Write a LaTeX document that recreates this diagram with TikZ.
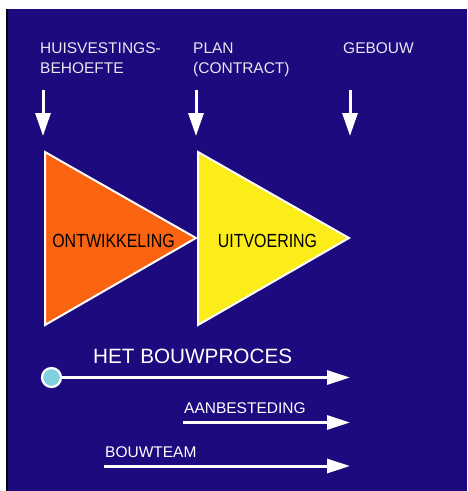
\documentclass[tikz,border=0pt]{standalone}
\usepackage{fontspec}
\setmainfont{Liberation Sans}
\newfontfamily\narrowsf[FakeStretch=0.84]{Liberation Sans}
\usepackage{xcolor}
\usepackage{tikz}
\usetikzlibrary{arrows.meta, positioning}
\definecolor{BP_NAVY}{HTML}{1C0A7E}
\definecolor{BP_ORANGE}{HTML}{FA6410}
\definecolor{BP_YELLOW}{HTML}{FCEC1A}
\definecolor{BP_CYAN}{HTML}{80D0E0}
\definecolor{BP_LIGHT}{HTML}{E8E8F0}
\tikzset{
  toplabel/.style={
    anchor=base west, inner sep=0pt, align=left,
    text=BP_LIGHT, font=\fontsize{15.5}{20}\selectfont},
  phase/.style={draw=white, line width=2pt, line join=miter},
  phasetext/.style={
    anchor=base, inner sep=0pt,
    text=black, font=\narrowsf\fontsize{19}{22}\selectfont},
  proclabel/.style={
    anchor=base west, inner sep=0pt,
    text=white, font=\fontsize{15.5}{18}\selectfont},
  downarr/.style={-{Triangle[length=23pt,width=15pt]}, line width=3pt, draw=white},
  procarr/.style={-{Triangle[length=23pt,width=14pt]}, line width=3pt, draw=white},
  startdot/.style={circle, minimum size=19pt, inner sep=0pt,
    draw=white, line width=2.2pt, fill=BP_CYAN},
}
\begin{document}
\begin{tikzpicture}[x=1pt, y=-1pt]

  \useasboundingbox (0,0) rectangle (467,491);
  \fill[white] (0,0) rectangle (467,491);
  \fill[BP_NAVY] (8,9) rectangle (467,491);
  \fill[black] (6,9) rectangle (8,491);

  % inputs along the top (base = last line)
  \node[toplabel] (need) at (40,73) {HUISVESTINGS-\\BEHOEFTE};
  \node[toplabel] (plan) at (193,73) {PLAN\\(CONTRACT)};
  \node[toplabel] (bldg) at (343,53) {GEBOUW};

  \coordinate (need0) at (43,90);   \coordinate (need1) at (43,136);
  \coordinate (plan0) at (196,90);  \coordinate (plan1) at (196,136);
  \coordinate (bldg0) at (350,90);  \coordinate (bldg1) at (350,136);
  \draw[downarr] (need0) -- (need1);
  \draw[downarr] (plan0) -- (plan1);
  \draw[downarr] (bldg0) -- (bldg1);

  % the two phases
  \draw[phase, fill=BP_ORANGE] (45,152) -- (196,238) -- (45,325) -- cycle;
  \draw[phase, fill=BP_YELLOW] (198,152) -- (349,238) -- (198,325) -- cycle;
  \node[phasetext] (ontw) at (113.5,247) {ONTWIKKELING};
  \node[phasetext] (uitv) at (267.5,247) {UITVOERING};

  % process lines
  \node[proclabel, font=\fontsize{20.7}{24}\selectfont] (proc) at (93,363) {HET BOUWPROCES};
  \node[startdot] (start) at (51.5,377.5) {};
  \coordinate (procend) at (350,377.5);
  \draw[procarr] (start) -- (procend);

  \node[proclabel] (aanb) at (184,413) {AANBESTEDING};
  \coordinate (aanb0) at (183,422.5);
  \coordinate (aanb1) at (350,422.5);
  \draw[procarr] (aanb0) -- (aanb1);

  \node[proclabel] (team) at (105,457) {BOUWTEAM};
  \coordinate (team0) at (104,466);
  \coordinate (team1) at (350,466);
  \draw[procarr] (team0) -- (team1);

\end{tikzpicture}
\end{document}
